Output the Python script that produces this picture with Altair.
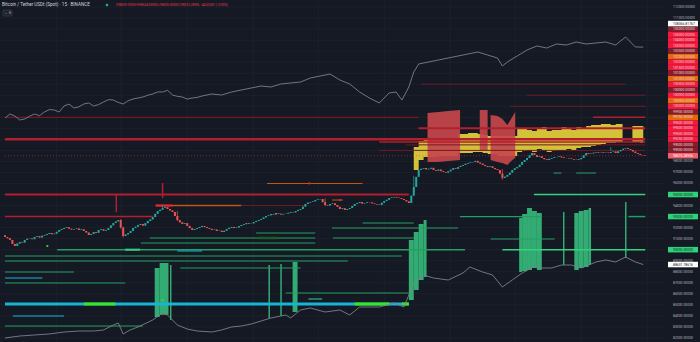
import altair as alt
import pandas as pd

BG = "#151924"
GRID = "#1d212c"

# ---------------- data ----------------
# 15-minute candle closes, two candles per 5px slot of the x scale
first_open = 91300
closes = [91150, 91040, 90880, 90520, 90330, 90560, 90700, 90640, 90880, 90990,
          91020, 90950, 91150, 91220, 91100, 91260, 91330, 91420, 91510, 91400,
          91450, 91620, 91780, 91880, 91960, 92030, 91900, 91820, 91870, 91920,
          91780, 91840, 91690, 91550, 91330, 91420, 91600, 91520, 91780, 91850,
          91720, 91790, 91960, 92200, 92420, 92560, 92690, 92000, 91240, 91380,
          91510, 91700, 91960, 92080, 92240, 92330, 92180, 92400, 92600, 92740,
          92960, 93250, 93500, 93620, 93780, 93850, 93690, 93560, 93420, 93050,
          92690, 92480, 92330, 92400, 92150, 91950, 91780, 91870, 91960, 92060,
          92150, 92050, 91960, 91880, 91780, 91820, 91690, 91720, 91600, 91710,
          91870, 91980, 92060, 91960, 92010, 92140, 92240, 92310, 92420, 92350,
          92380, 92500, 92600, 92690, 92780, 92920, 93050, 93120, 93230, 93180,
          93320, 93260, 93180, 93240, 93260, 93340, 93420, 93380, 93500, 93600,
          93690, 93900, 94140, 94260, 94320, 94380, 94500, 94560, 94590, 94300,
          94050, 94000, 94140, 94200, 94050, 93880, 93690, 93760, 93600, 93680,
          93780, 93960, 94140, 94230, 94320, 94180, 94230, 94300, 94280, 94200,
          94140, 94090, 94050, 94250, 94410, 94520, 94680, 94730, 94780, 94720,
          94680, 94600, 94500, 94380, 94230, 94900, 95680, 96600, 97220, 97330,
          97400, 97280, 97340, 97420, 97220, 97150, 97260, 97120, 97040, 96980,
          97100, 97250, 97400, 97330, 97490, 97600, 97680, 97790, 97860, 97920,
          97950, 98050, 97900, 97800, 97680, 97580, 97490, 97550, 97400, 97300,
          97220, 96900, 96500, 96620, 96770, 96980, 97220, 97380, 97490, 97700,
          97950, 98120, 98310, 98550, 98760, 98580, 98400, 98460, 98310, 98200,
          98130, 98240, 98310, 98380, 98400, 98450, 98360, 98300, 98310, 98270,
          98220, 98160, 98130, 98200, 98310, 98550, 98760, 98680, 98720, 98800,
          98850, 98790, 98760, 98830, 98800, 98760, 98850, 98900, 98760, 98920,
          99040, 99150, 99220, 99130, 99040, 98900, 98760, 98680, 98580, 98550,
          98515.28906]
wick_idx = [47, 48, 70, 130, 166, 202, 64, 246]
wick_hi = [92760, 92100, 93500, 94650, 96700, 97300, 94000, 99300]
wick_lo = [91900, 91100, 92600, 93950, 94850, 96330, 93600, 98950]

# upper grey line (last 108366.81767), x in 5px slots
top_x = [0, 1, 2, 3, 4, 5, 6, 7, 8, 9, 10, 11, 12, 13, 14, 15, 16, 17, 18, 19,
         20, 21, 22, 23, 24, 25, 26, 27, 28, 29, 30, 31, 32, 33, 34, 35, 36, 37, 38, 39,
         40, 42, 44, 46, 48, 50, 52, 54, 56, 58, 60, 62, 64, 66, 68, 70, 72, 74, 76, 78,
         79.4, 80.6, 82, 83, 84, 86, 88, 90, 92, 94, 96, 98, 100, 101,
         102, 104, 106, 108, 110, 112, 114, 116, 118, 120, 122, 124, 126, 128, 129.6]
top_v = [101937, 102300, 102118, 101760, 101846, 102100, 102299, 102150, 102481, 102700,
         102662, 102480, 103025, 103200, 102843, 102950, 103206, 103300, 103025, 103150,
         103387, 103600, 103569, 103350, 103206, 103500, 103659, 103750, 103841, 104000,
         104113, 104300, 104294, 104450, 104022, 103900, 103841, 103650, 103750, 103800,
         103931, 104113, 104022, 104294, 104475, 104657, 104838, 104747, 105019, 105110,
         105200, 105563, 105744, 105926, 105382, 105019, 104294, 103750, 103297, 104203,
         104294, 103569, 104747, 106107, 106832, 107014, 107195, 107376, 107558, 107739,
         107920, 107648, 107376, 106651, 107014, 107558, 108102, 108464, 108283, 108646,
         108555, 108827, 108646, 108736, 108827, 108555, 109280, 108374, 108366.81767]

# lower grey line (last 88651.78616)
bot_x = [0, 3, 6, 9, 12, 15, 18, 20, 22, 23, 24, 25.4, 27, 30, 32, 33, 35, 37, 39, 42,
         44, 46, 48, 50, 52, 54, 57, 58, 60, 62, 65, 68, 70, 72, 76, 79, 81, 82, 83, 85,
         87, 90, 93, 94.4, 97, 99, 101, 103, 105, 108, 109, 111, 113, 115, 117, 120, 122,
         124, 126, 128, 129.6]
bot_v = [81992, 82173, 82264, 82354, 82535, 82626, 82626, 82717, 83170, 83351,
         82354, 82717, 82989, 83623, 84258, 84077, 83170, 82807, 82626, 82535,
         82717, 82989, 83079, 83261, 83533, 83805, 84077, 83805, 84530, 84711,
         84349, 84530, 84077, 84802, 84802, 85165, 84802, 85890, 86978, 87703,
         87431, 87250, 87884, 88428, 87975, 87703, 86615, 87250, 87884, 88610,
         88338, 88338, 88610, 88610, 88338, 88882, 89063, 88882, 89335, 88882,
         88651.78616]

# yellow band (two pieces)
yel_seg = ["a"] * 36 + ["b"] * 4
yel_x = [83, 84, 85, 86, 88, 90, 92, 94, 95, 96, 97, 98, 100, 102, 104, 105, 106, 107,
         108, 109, 110, 111, 112, 113, 114, 115, 116, 117, 118, 119, 120, 121, 122, 123,
         124, 125.4, 127.4, 128, 129, 129.6]
yel_top = [99308, 99852, 99942, 100033, 100124, 100124, 100486, 100577, 100577, 100486,
           100396, 100305, 100305, 100305, 100939, 101030, 100849, 100758, 101030, 101121,
           100758, 100849, 100849, 101121, 101030, 100849, 101121, 101030, 101211, 101302,
           101302, 101393, 101393, 101302, 101393, 101483, 101211, 101211, 101211, 101211]
yel_bot = [97222, 98129, 98401, 98401, 98492, 98492, 98764, 98764, 98854, 98854,
           98764, 98673, 98492, 98492, 98854, 98945, 99036, 98854, 99126, 99036,
           98854, 98945, 99036, 99036, 99126, 99036, 99217, 99308, 99308, 99398,
           99489, 99580, 99670, 99670, 99761, 99761, 99761, 99761, 99670, 99670]

# red band (three blocks)
red_seg = ["a"] * 4 + ["b"] * 2 + ["c"] * 6
red_x = [85.8, 88, 90, 92.4, 96.4, 98, 98.6, 100, 101, 102, 103, 103.6]
red_top = [102390, 102480, 102570, 102660, 102662, 102662,
           102209, 102118, 101844, 101302, 102027, 102481]
red_bot = [97948, 97948, 98040, 98130, 99036, 99036,
           98129, 97948, 97857, 97676, 98129, 98310]

# horizontal level lines: price, start slot, end slot, colour key, width
lvl_price = [100000, 102000, 102000, 101000, 99750, 99500, 99000, 105000, 104000, 103000,
             95000, 93000, 94000, 94000, 96000, 94500, 94000,
             95000, 93000, 93000, 90000, 90000, 91511, 91058, 91058, 90604, 89426,
             88972, 87975, 88338, 86978, 86071, 83079, 91964, 92417, 90967, 96950,
             96950, 85527, 91058, 90000,
             85074, 85074, 85074, 85074, 83986, 87431, 89879]
lvl_x0 = [0, 0, 119.4, 84, 76, 81.4, 76, 84.6, 106, 102.6,
          0, 0, 30.6, 48, 53.2, 66.4, 30.6,
          107.4, 92.4, 126.6, 10.6, 101, 51, 29.4, 66.6, 27.6, 0,
          0, 0, 35.6, 0, 57, 0, 66.4, 72.6, 98.6, 111.4,
          116, 61.6, 51.4, 24.4,
          0, 16, 71, 80.6, 1.6, 0, 35]
lvl_x1 = [130, 84, 130, 130, 130, 130, 130, 126, 130, 130,
          82, 30, 48, 61, 72.6, 68.6, 34,
          130, 109, 130, 93.4, 130, 63, 63, 83, 63, 80.6,
          69.6, 14, 60, 24.4, 82, 28, 92, 83, 111.6, 113,
          120, 64.4, 55.4, 27.4,
          82, 22.4, 78, 82, 12, 7.6, 40]
lvl_col = ["red", "dkred", "red", "red", "red", "dkred", "dkred", "dkred", "dkred", "dkred",
           "red", "red", "orange", "dkred", "orange", "orange", "brred",
           "brgreen", "green", "green", "green", "brgreen", "green", "green", "green", "green", "green",
           "green", "green", "green", "green", "green", "green", "green", "green", "green", "green",
           "green", "brgreen", "dkgreen", "brgreen",
           "cyan", "lime", "lime", "lime", "cyan", "cyan", "cyan"]
lvl_w = [2.5, 1.2, 1.5, 2, 1.5, 1, 1, 1, 1, 1,
         2, 1.5, 1.5, 1, 1.2, 1, 2,
         1.5, 1.2, 1.5, 1.5, 1.5, 1, 1.2, 1.2, 1, 1.2,
         1, 1, 1, 1, 1, 1, 1, 1, 1, 1,
         1, 1, 2.5, 2,
         3, 3, 3, 3, 1.2, 1, 1]

# short vertical red lines
vr_x = [22.6, 32]
vr_p0 = [93400, 94680]
vr_p1 = [95000, 96050]

# green histogram blocks: start slot, end slot, top, bottom
hist_x0 = [30.4, 31.4, 33.5, 53.5, 55.9, 58.4, 82, 83, 84, 85,
           104.4, 105, 106, 107, 108, 113.3, 115.6, 116.5, 117.5, 118.5, 125.9]
hist_x1 = [31.4, 33.2, 33.8, 53.8, 56.2, 59.4, 83, 84, 85, 85.6,
           105, 106, 107, 108, 109, 113.6, 116.5, 117.5, 118.5, 119, 126.2]
hist_top = [88338, 88790, 88610, 88610, 88700, 88882, 90876, 91601, 92327, 92689,
            92870, 93233, 93777, 93505, 93324, 93415, 93324, 93505, 93596, 93777, 94321]
hist_bot = [83900, 84100, 83623, 83805, 83986, 84349, 85436, 86343, 87250, 87522,
            87975, 88060, 88157, 88338, 88157, 88610, 88157, 88338, 88430, 88610, 89244]

# small dots
dot_x = [8.6, 32, 61.8, 68]
dot_p = [90332, 85436, 96000, 94500]
dot_col = ["#2ee82e", "#2ee82e", "#f0233a", "#f0233a"]

# stacked price-scale labels (top to bottom)
stack_text = [105000, 105000, 104000, 103000, 102500, 102000, 102000, 101500, 101000, 101000,
              100500, 100000, 100000, 100000, 100000, 99900, 99750, 99500, 99500, 99500,
              99250, 99000, 99000]
stack_col = ["dkred", "red", "red", "red", "dkred", "orange", "red", "red", "dkred", "orange",
             "red", "dkred", "red", "orange", "red", "dkred", "orange", "red", "red", "red",
             "red", "dkred", "dkred"]
upper_last = 108366.81767
last_price = 98515.28906
green_levels = [95000, 93000, 90000]
lower_last = 88651.78616

axis_ticks = list(range(82000, 113000, 1000))
grid_slots = [10.4, 23.6, 37, 50.4, 63.6, 77, 90.4, 103.6, 117, 130.4]

title_txt = "Bitcoin / Tether USDt (Spot) · 15 · BINANCE"
ohlc_txt = "O98559.92969 H98604.00000 L98500.50000 C98515.28906 −44.63281 (−0.05%)"

# ---------------- styling ----------------
LINE_COL = {"red": "#b31f2e", "dkred": "#6e1b26", "orange": "#c4560f", "brred": "#f0233a",
            "green": "#229f63", "brgreen": "#35d27e", "dkgreen": "#1d5a2b",
            "cyan": "#19b3d6", "lime": "#3be51e"}
BOX_COL = {"red": "#f2193d", "dkred": "#861c2c", "orange": "#e5670b"}

X = alt.Scale(domain=[0, 133], nice=False, zero=False)
Y = alt.Scale(domain=[81629, 112635], nice=False, zero=False)


def xq(f):
    return alt.X(f, type="quantitative", scale=X, axis=None)


def yq(f):
    return alt.Y(f, type="quantitative", scale=Y, axis=None)


# grid
hgrid_df = pd.DataFrame({"t": axis_ticks})
hgrid = alt.Chart(hgrid_df).mark_rule(color=GRID, strokeWidth=1).encode(
    y=yq("t"), x=alt.value(0), x2=alt.value(665))
vgrid_df = pd.DataFrame({"g": grid_slots})
vgrid = alt.Chart(vgrid_df).mark_rule(color=GRID, strokeWidth=1).encode(
    x=xq("g"), y=alt.value(0), y2=alt.value(342))

yel_df = pd.DataFrame({"s": yel_seg, "x": yel_x, "t": yel_top, "b": yel_bot})
yel = alt.Chart(yel_df).mark_area(color="#ddcb3a", opacity=0.95, interpolate="step-after").encode(
    x=xq("x"), y=yq("t"), y2="b", detail="s:N")

red_df = pd.DataFrame({"s": red_seg, "x": red_x, "t": red_top, "b": red_bot})
red = alt.Chart(red_df).mark_area(color="#c4474c", opacity=0.92).encode(
    x=xq("x"), y=yq("t"), y2="b", detail="s:N")

hist_df = pd.DataFrame({"x0": hist_x0, "x1": hist_x1, "t": hist_top, "b": hist_bot})
hist = alt.Chart(hist_df).mark_rect(color="#38c783", opacity=0.85).encode(
    x=xq("x0"), x2="x1", y=yq("t"), y2="b")

lvl_df = pd.DataFrame({"p": lvl_price, "x0": lvl_x0, "x1": lvl_x1,
                       "c": [LINE_COL[k] for k in lvl_col], "w": lvl_w})
lvl = alt.Chart(lvl_df).mark_rule().encode(
    x=xq("x0"), x2="x1", y=yq("p"),
    color=alt.Color("c:N", scale=None), strokeWidth=alt.StrokeWidth("w:Q", scale=None))

vr_df = pd.DataFrame({"x": vr_x, "a": vr_p0, "b": vr_p1})
vr = alt.Chart(vr_df).mark_rule(color="#b31f2e", strokeWidth=1.5).encode(
    x=xq("x"), y=yq("a"), y2="b")

dot_df = pd.DataFrame({"x": dot_x, "p": dot_p, "c": dot_col})
dots = alt.Chart(dot_df).mark_circle(size=5, opacity=1).encode(
    x=xq("x"), y=yq("p"), color=alt.Color("c:N", scale=None))

grey_df = pd.concat([
    pd.DataFrame({"s": "up", "x": top_x, "v": top_v}),
    pd.DataFrame({"s": "dn", "x": bot_x, "v": bot_v})])
grey = alt.Chart(grey_df).mark_line(color="#7d808a", strokeWidth=0.9).encode(
    x=xq("x"), y=yq("v"), detail="s:N")

last_df = pd.DataFrame({"p": [last_price], "x0": [0], "x1": [130]})
lastline = alt.Chart(last_df).mark_rule(color="#f23645", strokeWidth=0.7, strokeDash=[1, 2],
                                        opacity=0.7).encode(x=xq("x0"), x2="x1", y=yq("p"))

opens = [first_open] + closes[:-1]
hi = [max(o, c) for o, c in zip(opens, closes)]
lo = [min(o, c) for o, c in zip(opens, closes)]
for k, i in enumerate(wick_idx):
    hi[i] = wick_hi[k]
    lo[i] = wick_lo[k]
cdf = pd.DataFrame({"x": [j * 0.5 for j in range(len(closes))], "o": opens, "c": closes,
                    "h": hi, "l": lo})
cdf["col"] = ["#26a69a" if c >= o else "#ef5350" for o, c in zip(opens, closes)]
wicks = alt.Chart(cdf).mark_rule(strokeWidth=0.7).encode(
    x=xq("x"), y=yq("l"), y2="h", color=alt.Color("col:N", scale=None))
bodies = alt.Chart(cdf).mark_bar(size=2).encode(
    x=xq("x"), y=yq("o"), y2="c", color=alt.Color("col:N", scale=None))

# coloured last-value labels (stacked like the price scale does)
pos = []
prev = -1e9
for v in reversed(stack_text):
    p = max(v, prev + 500)
    pos.append(p)
    prev = p
pos = list(reversed(pos))
top_pos = max(upper_last, prev + 500)
lab_rows = [{"p": p, "t": f"{v:.5f}", "bg": BOX_COL[c], "fg": "#f4d6da"}
            for p, v, c in zip(pos, stack_text, stack_col)]
lab_rows.append({"p": top_pos, "t": f"{upper_last:.5f}", "bg": "#ffffff", "fg": "#131722"})
lab_rows.append({"p": last_price, "t": f"{last_price:.5f}", "bg": "#f2606c", "fg": "#ffffff"})
for g in green_levels:
    lab_rows.append({"p": g, "t": f"{g:.5f}", "bg": "#2fd27a", "fg": "#10301e"})
lab_rows.append({"p": lower_last, "t": f"{lower_last:.5f}", "bg": "#ffffff", "fg": "#131722"})
lab_df = pd.DataFrame(lab_rows)
lab_df["p0"] = lab_df["p"] - 250
lab_df["p1"] = lab_df["p"] + 250

# plain price-scale tick labels, only where no coloured label covers them
box_pos = list(lab_df["p"])
shown = [t for t in axis_ticks if all(abs(t - p) >= 300 for p in box_pos)]
tick_df = pd.DataFrame({"t": shown, "lab": [f"{t:.5f}" for t in shown]})
ticks = alt.Chart(tick_df).mark_text(align="left", baseline="middle", fontSize=3.4,
                                     font="Roboto", color="#b2b5be").encode(
    x=alt.value(673), y=yq("t"), text="lab:N")

boxes = alt.Chart(lab_df).mark_rect().encode(
    x=alt.value(668), x2=alt.value(698), y=yq("p0"), y2="p1",
    color=alt.Color("bg:N", scale=None))
btext = alt.Chart(lab_df).mark_text(align="left", baseline="middle", fontSize=3.4,
                                    font="Roboto").encode(
    x=alt.value(673), y=yq("p"), text="t:N", color=alt.Color("fg:N", scale=None))

# header
hdr = alt.Chart(pd.DataFrame({"t": [title_txt]})).mark_text(
    align="left", baseline="middle", fontSize=4.6, font="Roboto", color="#d1d4dc").encode(
    x=alt.value(2), y=alt.value(5), text="t:N")
hdot = alt.Chart(pd.DataFrame({"t": [1]})).mark_circle(size=7, color="#22ab94", opacity=1).encode(
    x=alt.value(107), y=alt.value(5))
ohlc = alt.Chart(pd.DataFrame({"t": [ohlc_txt]})).mark_text(
    align="left", baseline="middle", fontSize=3.1, font="Roboto", color="#f23645").encode(
    x=alt.value(116), y=alt.value(5), text="t:N")
ibox = alt.Chart(pd.DataFrame({"t": [1]})).mark_rect(
    fill="#1e222d", stroke="#434651", strokeWidth=0.6, cornerRadius=1).encode(
    x=alt.value(3), x2=alt.value(12), y=alt.value(10), y2=alt.value(16))
itxt = alt.Chart(pd.DataFrame({"t": ["⌄ 8"]})).mark_text(
    align="left", baseline="middle", fontSize=3.6, font="DejaVu Sans", color="#b2b5be").encode(
    x=alt.value(4.5), y=alt.value(13), text="t:N")

chart = alt.layer(hgrid, vgrid, yel, red, hist, lvl, vr, grey, lastline, wicks, bodies, dots,
                  ticks, boxes, btext, hdr, hdot, ohlc, ibox, itxt).properties(
    width=665, height=342, background=BG,
    autosize=alt.AutoSizeParams(type="none"),
    padding={"left": 0, "right": 35, "top": 0, "bottom": 0},
).configure_view(strokeWidth=0, fill=BG)

chart.save("out.html", embed_options={"renderer": "svg", "actions": False})
